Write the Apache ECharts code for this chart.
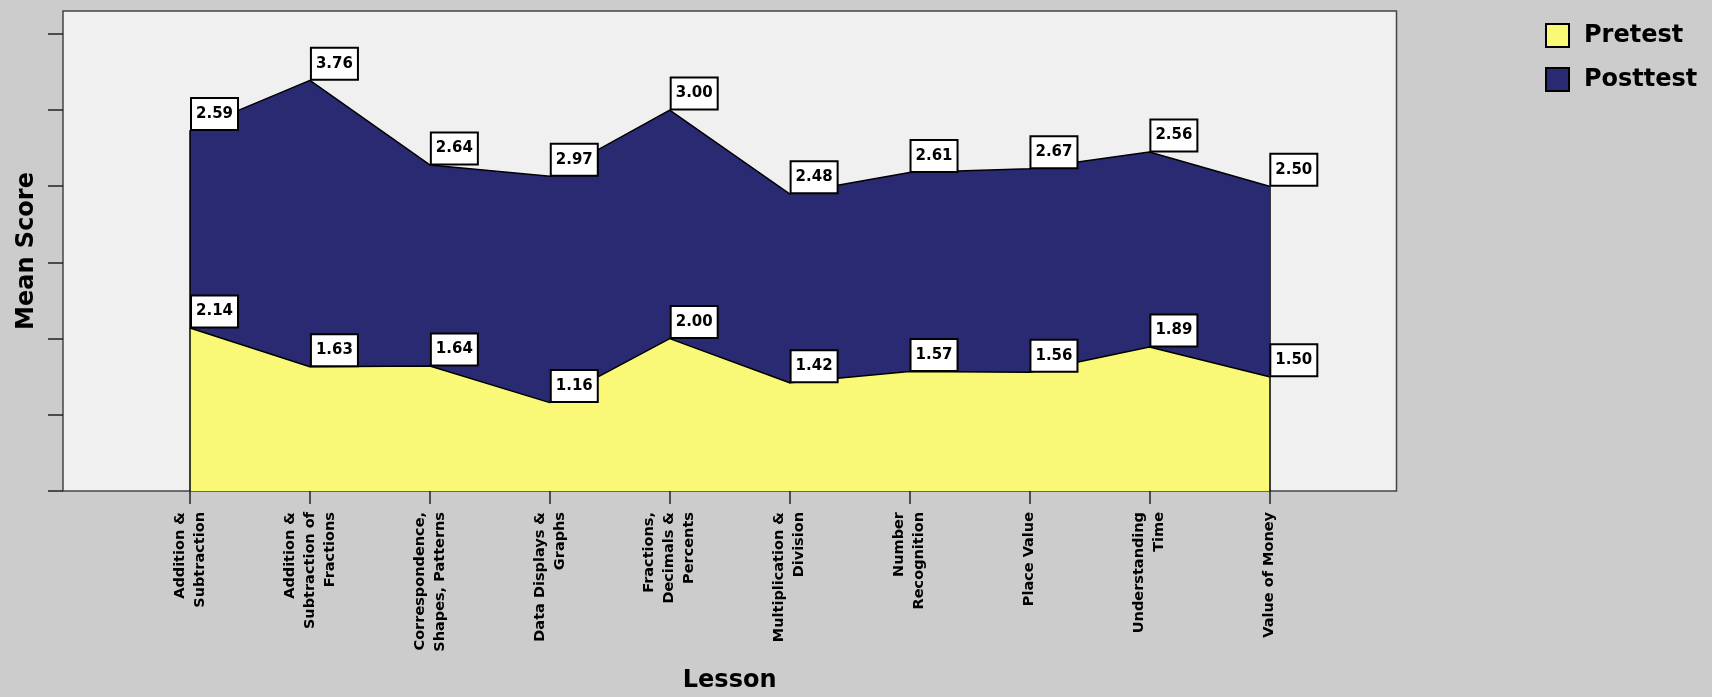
<!DOCTYPE html>
<html>
<head>
<meta charset="utf-8">
<script src="https://cdn.jsdelivr.net/npm/echarts@6/dist/echarts.min.js"></script>
<style>
html,body{margin:0;padding:0;background:#CCCCCC;}
#chart{width:1712px;height:697px;}
</style>
</head>
<body>
<div id="chart"></div>
<script>
const categories = [
  "Addition &\nSubtraction",
  "Addition &\nSubtraction of\nFractions",
  "Correspondence,\nShapes, Patterns",
  "Data Displays &\nGraphs",
  "Fractions,\nDecimals &\nPercents",
  "Multiplication &\nDivision",
  "Number\nRecognition",
  "Place Value",
  "Understanding\nTime",
  "Value of Money"
];
const pretest  = [2.14, 1.63, 1.64, 1.16, 2.00, 1.42, 1.57, 1.56, 1.89, 1.50];
const posttest = [2.59, 3.76, 2.64, 2.97, 3.00, 2.48, 2.61, 2.67, 2.56, 2.50];
const yTicks = [0, 1, 2, 3, 4, 5, 6];
const yMax = 6.3;

const YELLOW = '#F9F977';
const NAVY = '#2A2A72';
const FONT = '"DejaVu Sans", Verdana, sans-serif';

const lastIdx = categories.length - 1;
const edgeLines = [0, lastIdx].map(i => [
  { coord: [i, 0] },
  { coord: [i, pretest[i] + posttest[i]] }
]);

const labelStyle = {
  show: true,
  position: 'top',
  align: 'left',
  distance: 1,
  offset: [2, 0],
  formatter: p => p.value.toFixed(2),
  fontFamily: FONT,
  fontWeight: 'bold',
  fontSize: 15,
  lineHeight: 16,
  color: '#000',
  backgroundColor: '#FFFFFF',
  borderColor: '#000',
  borderWidth: 2,
  padding: [7, 4, 7, 4]
};

const chart = echarts.init(document.getElementById('chart'), null, { renderer: 'canvas' });
chart.setOption({
  backgroundColor: '#CCCCCC',
  animation: false,
  legend: {
    orient: 'vertical',
    left: 1540,
    top: 18,
    itemWidth: 23,
    itemHeight: 23,
    itemGap: 19,
    icon: 'rect',
    textStyle: { fontFamily: FONT, fontWeight: 'bold', fontSize: 24, color: '#000', padding: [0, 0, 0, 10] },
    data: [
      { name: 'Pretest', itemStyle: { color: YELLOW, borderColor: '#000', borderWidth: 2 } },
      { name: 'Posttest', itemStyle: { color: NAVY, borderColor: '#000', borderWidth: 2 } }
    ]
  },
  grid: [
    { left: 63, top: 11, width: 1333.5, height: 480, outerBoundsMode: 'none', containLabel: false, show: true, backgroundColor: '#F0F0F0', borderColor: '#444', borderWidth: 1.5 },
    { left: 190, top: 11, width: 1079.3, height: 480, outerBoundsMode: 'none', containLabel: false }
  ],
  xAxis: [
    { gridIndex: 0, type: 'value', min: 0, max: 1, show: false },
    {
      gridIndex: 1, type: 'category', data: categories, boundaryGap: false,
      name: 'Lesson', nameLocation: 'middle', nameGap: 178,
      nameTextStyle: { fontFamily: FONT, fontWeight: 'bold', fontSize: 24, color: '#000' },
      axisLine: { show: false },
      axisTick: { show: true, length: 13, lineStyle: { color: '#222', width: 1.5 } },
      axisLabel: {
        interval: 0, rotate: 90, margin: 21,
        fontFamily: FONT, fontWeight: 'bold', fontSize: 14.5, lineHeight: 20, color: '#000'
      },
      splitLine: { show: false }
    }
  ],
  yAxis: [
    {
      gridIndex: 0, type: 'value', min: 0, max: yMax,
      name: 'Mean Score', nameLocation: 'middle', nameGap: 24, nameRotate: 90,
      nameTextStyle: { fontFamily: FONT, fontWeight: 'bold', fontSize: 24, color: '#000' },
      axisLine: { show: false },
      axisTick: { show: true, length: 15, customValues: yTicks, lineStyle: { color: '#222', width: 1.5 } },
      axisLabel: { show: false },
      splitLine: { show: false }
    },
    { gridIndex: 1, type: 'value', min: 0, max: yMax, show: false }
  ],
  series: [
    {
      name: 'Pretest', type: 'line', xAxisIndex: 1, yAxisIndex: 1, stack: 'total',
      data: pretest, color: YELLOW,
      symbol: 'circle', symbolSize: 1, showSymbol: true,
      itemStyle: { color: '#000' },
      lineStyle: { color: '#000', width: 1.5 },
      areaStyle: { color: YELLOW, opacity: 1 },
      label: labelStyle, z: 2
    },
    {
      name: 'Posttest', type: 'line', xAxisIndex: 1, yAxisIndex: 1, stack: 'total',
      data: posttest, color: NAVY,
      symbol: 'circle', symbolSize: 1, showSymbol: true,
      itemStyle: { color: '#000' },
      lineStyle: { color: '#000', width: 1.5 },
      areaStyle: { color: NAVY, opacity: 1 },
      label: labelStyle, z: 2,
      markLine: {
        silent: true, symbol: 'none', label: { show: false },
        lineStyle: { color: '#000', width: 1.5, type: 'solid' },
        data: edgeLines
      }
    }
  ]
});
</script>
</body>
</html>
